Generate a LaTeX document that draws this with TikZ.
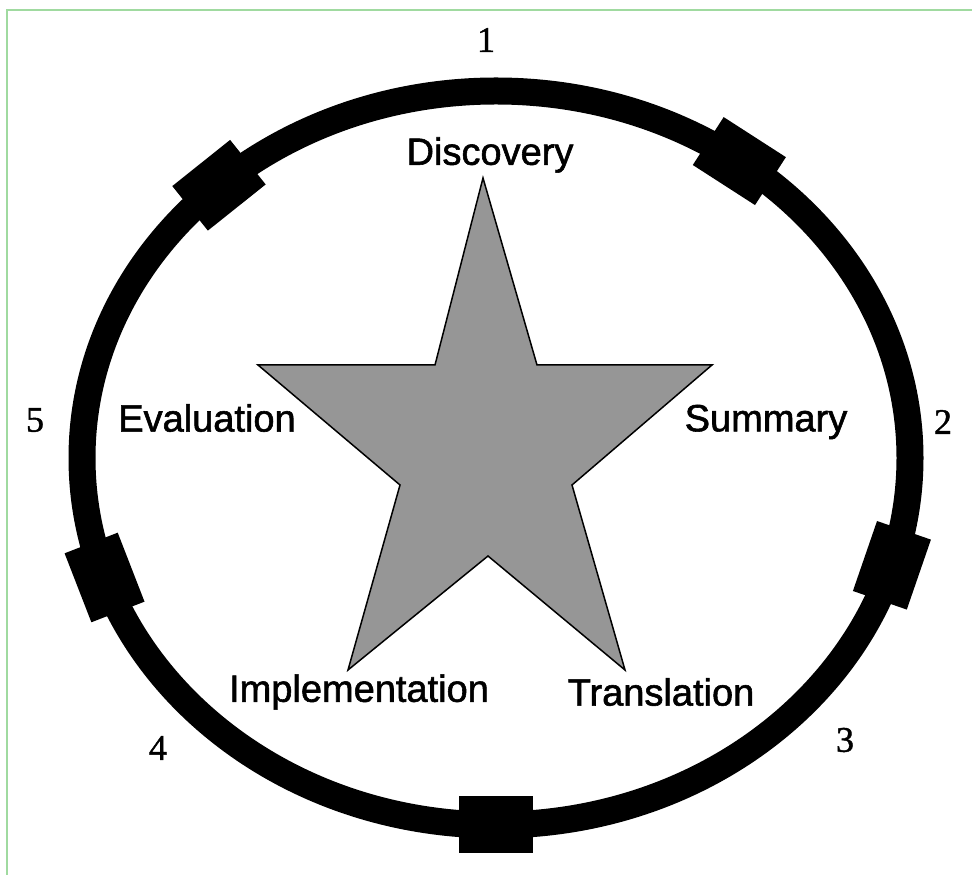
\documentclass[tikz,border=0pt]{standalone}
\usepackage{fontspec}
\setmainfont{Liberation Serif}
\newfontfamily\numfont{Liberation Serif}[FakeBold=1.2]
\newfontfamily\labelfont{Liberation Sans}[FakeBold=1.5]
\definecolor{framegreen}{RGB}{160,218,160}
\definecolor{stargray}{RGB}{150,150,150}
\begin{document}
\begin{tikzpicture}[x=1pt,y=1pt,
  ring/.style={line width=27pt, black},
  block/.style={fill=black, draw=none, rectangle, minimum width=74pt, minimum height=57pt, inner sep=0pt},
  stagelabel/.style={font=\labelfont\fontsize{38}{40}\selectfont, inner sep=0pt},
  numlabel/.style={font=\numfont\fontsize{36}{38}\selectfont, inner sep=0pt},
  startshape/.style={fill=stargray, draw=black, line width=1.5pt, line join=miter}]
\useasboundingbox (0,0) rectangle (972,875);
\fill[white] (0,0) rectangle (972,875);
% frame (top and left edges)
\draw[framegreen, line width=2pt] (7,0) -- (7,865) -- (972,865);
% ring
\coordinate (c) at (496,417);
\draw[ring] (c) ellipse [x radius=414, y radius=367];
% blocks on the ring
\foreach \t/\n in {132/blockA, 54/blockB, -17/blockC, -90/blockD, 199/blockE}{
  \pgfmathsetmacro\ang{atan2(367*cos(\t),-414*sin(\t))}
  \node[block, rotate=\ang] (\n) at ({496+414*cos(\t)},{417+367*sin(\t)}) {};
}
% star
\draw[startshape] (483,697) -- (537,510) -- (712,510) -- (572,390) -- (625,205)
  -- (488,319) -- (348,205) -- (400,390) -- (258,510) -- (435,510) -- cycle;
% stage labels
\node[stagelabel] (discovery) at (490,720) {Discovery};
\node[stagelabel] (summary) at (766,453) {Summary};
\node[stagelabel] (translation) at (661,183) {Translation};
\node[stagelabel] (implementation) at (359,183) {Implementation};
\node[stagelabel] (evaluation) at (207,457) {Evaluation};
% numbers
\node[numlabel] (n1) at (486,835) {1};
\node[numlabel] (n2) at (943,453) {2};
\node[numlabel] (n3) at (845,135) {3};
\node[numlabel] (n4) at (158,127) {4};
\node[numlabel] (n5) at (35,455) {5};
\end{tikzpicture}
\end{document}
